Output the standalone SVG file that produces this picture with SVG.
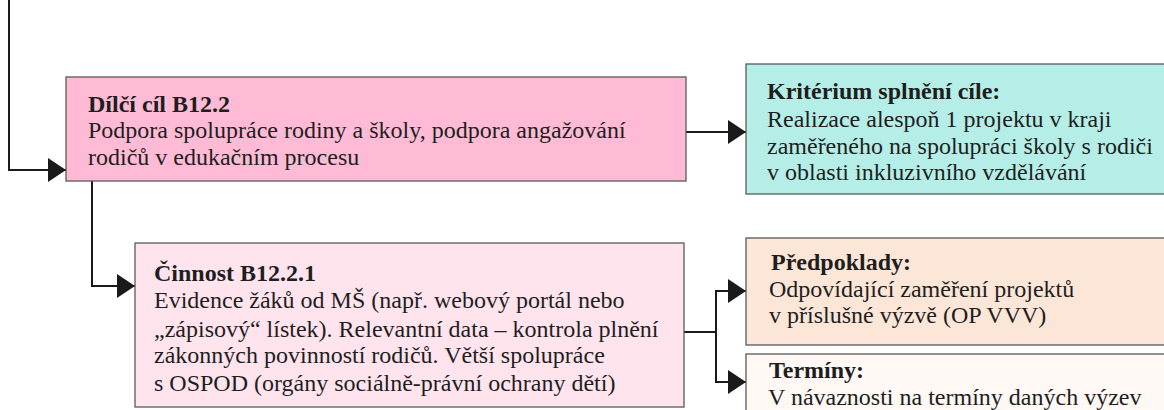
<svg xmlns="http://www.w3.org/2000/svg" width="1164" height="410" viewBox="0 0 1164 410">
<style>
.box{stroke:#5a5a5a;stroke-width:1.3}
.t{font-family:"Liberation Serif",serif;font-size:24px;fill:#1e1e1e}
.b{font-weight:bold}
.c{fill:none;stroke:#1a1a1a;stroke-width:2}
</style>
<defs>
<marker id="ah" markerWidth="18" markerHeight="24" refX="18" refY="12" orient="auto" markerUnits="userSpaceOnUse">
<path d="M0,0 L18,12 L0,24 Z" fill="#1a1a1a"/>
</marker>
</defs>
<rect width="1164" height="410" fill="#fff"/>
<g id="connectors">
<path class="c" d="M9,0 V170 H66" marker-end="url(#ah)"/>
<path class="c" d="M92,181 V286 H135" marker-end="url(#ah)"/>
<path class="c" d="M686,132 H746" marker-end="url(#ah)"/>
<path class="c" d="M684,332 H716 V291 H746" marker-end="url(#ah)"/>
<path class="c" d="M716,332 V382 H746" marker-end="url(#ah)"/>
</g>
<g id="cil">
<rect class="box" x="66" y="77" width="620" height="104" fill="#FFBBD5"/>
<text class="t b" x="88" y="112">Dílčí cíl B12.2</text>
<text class="t" x="88" y="138">Podpora spolupráce rodiny a školy, podpora angažování</text>
<text class="t" x="88" y="165">rodičů v edukačním procesu</text>
</g>
<g id="kriterium">
<rect class="box" x="746" y="64" width="430" height="130" fill="#B5EEE6"/>
<text class="t b" x="767" y="99">Kritérium splnění cíle:</text>
<text class="t" x="767" y="127">Realizace alespoň 1 projektu v kraji</text>
<text class="t" x="767" y="154">zaměřeného na spolupráci školy s rodiči</text>
<text class="t" x="767" y="180">v oblasti inkluzivního vzdělávání</text>
</g>
<g id="cinnost">
<rect class="box" x="135" y="243" width="549" height="164" fill="#FFE4EE"/>
<text class="t b" x="154" y="281">Činnost B12.2.1</text>
<text class="t" x="154" y="308">Evidence žáků od MŠ (např. webový portál nebo</text>
<text class="t" x="154" y="337">„zápisový“ lístek). Relevantní data – kontrola plnění</text>
<text class="t" x="154" y="363">zákonných povinností rodičů. Větší spolupráce</text>
<text class="t" x="154" y="391">s OSPOD (orgány sociálně-právní ochrany dětí)</text>
</g>
<g id="predpoklady">
<rect class="box" x="746" y="238" width="430" height="107" fill="#FCE6D7"/>
<text class="t b" x="771" y="270">Předpoklady:</text>
<text class="t" x="769" y="297">Odpovídající zaměření projektů</text>
<text class="t" x="769" y="323">v příslušné výzvě (OP VVV)</text>
</g>
<g id="terminy">
<rect class="box" x="746" y="354" width="430" height="70" fill="#FFF8F5"/>
<text class="t b" x="769" y="378">Termíny:</text>
<text class="t" x="768" y="405">V návaznosti na termíny daných výzev</text>
</g>
</svg>
